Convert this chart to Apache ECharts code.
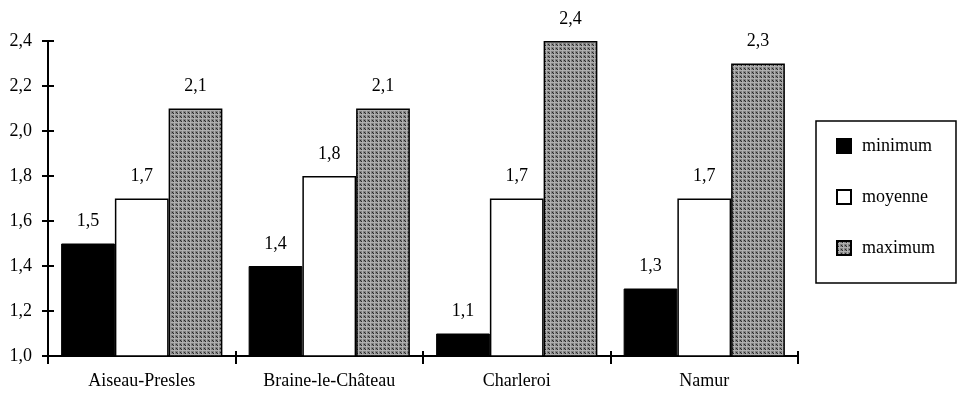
<!DOCTYPE html>
<html><head><meta charset="utf-8">
<script src="https://cdn.jsdelivr.net/npm/echarts@6/dist/echarts.min.js"></script>
<style>html,body{margin:0;padding:0;background:#fff}#c{width:959px;height:399px}</style>
</head><body><div id="c"></div>
<script>
const categories = ['Aiseau-Presles', 'Braine-le-Château', 'Charleroi', 'Namur'];
const minimum = [1.5, 1.4, 1.1, 1.3];
const moyenne = [1.7, 1.8, 1.7, 1.7];
const maximum = [2.1, 2.1, 2.4, 2.3];
const seriesNames = ['minimum', 'moyenne', 'maximum'];

const pc = document.createElement('canvas');
pc.width = 4; pc.height = 4;
const g = pc.getContext('2d');
g.fillStyle = '#828282'; g.fillRect(0,0,4,4);
g.fillStyle = '#b0b0b0'; g.fillRect(0,2,4,1); g.fillRect(2,0,1,4);
g.fillStyle = '#2a2a2a'; g.fillRect(0,0,1,1); g.fillRect(1,1,1,1);
const pattern = { image: pc, repeat: 'repeat' };

const font = 'Liberation Serif';
const fmt = v => String(v.toFixed(1)).replace('.', ',');
const lbl = { show: true, position: 'top', distance: 13, fontFamily: font, fontSize: 18, color: '#000', formatter: p => fmt(p.value) };
const chart = echarts.init(document.getElementById('c'), null, { renderer: 'canvas' });
const yBase = { type: 'value', min: 1.0, max: 2.4, interval: 0.2, splitLine: { show: false },
  axisLine: { show: true, lineStyle: { color: '#000', width: 2 } } };
chart.setOption({
  animation: false,
  backgroundColor: '#fff',
  grid: { left: 48, right: 161, top: 41, bottom: 43 },
  legend: {
    orient: 'vertical', left: 816, top: 121,
    padding: [16, 21, 26, 20], itemGap: 33, itemWidth: 14, itemHeight: 14,
    borderColor: '#000', borderWidth: 1.5,
    textStyle: { fontFamily: font, fontSize: 18, color: '#000', padding: [0, 0, 0, 6] },
    data: seriesNames.map(n => ({ name: n, icon: 'rect' }))
  },
  xAxis: [
    { type: 'category', data: categories, position: 'bottom',
      axisLine: { lineStyle: { color: '#000', width: 2 } },
      axisTick: { show: true, length: 8, lineStyle: { color: '#000', width: 2 } },
      axisLabel: { fontFamily: font, fontSize: 18, color: '#000', margin: 16 } },
    { type: 'category', data: categories, position: 'bottom', gridIndex: 0,
      axisLine: { show: false },
      axisTick: { show: true, inside: true, length: 5, lineStyle: { color: '#000', width: 2 } },
      axisLabel: { show: false } }
  ],
  yAxis: [
    Object.assign({}, yBase, {
      axisTick: { show: true, length: 6, lineStyle: { color: '#000', width: 2 } },
      axisLabel: { fontFamily: font, fontSize: 18, color: '#000', margin: 16, formatter: v => fmt(v) } }),
    Object.assign({}, yBase, { position: 'left',
      axisTick: { show: true, inside: true, length: 6, lineStyle: { color: '#000', width: 2 } },
      axisLabel: { show: false } })
  ],
  series: [
    { name: 'minimum', type: 'bar', data: minimum, barGap: '0%', barCategoryGap: '14%',
      itemStyle: { color: '#000', borderColor: '#000', borderWidth: 1 }, label: lbl },
    { name: 'moyenne', type: 'bar', data: moyenne,
      itemStyle: { color: '#fff', borderColor: '#000', borderWidth: 1.5 }, label: lbl },
    { name: 'maximum', type: 'bar', data: maximum,
      itemStyle: { color: pattern, borderColor: '#000', borderWidth: 1.5 }, label: lbl }
  ]
});
</script></body></html>
